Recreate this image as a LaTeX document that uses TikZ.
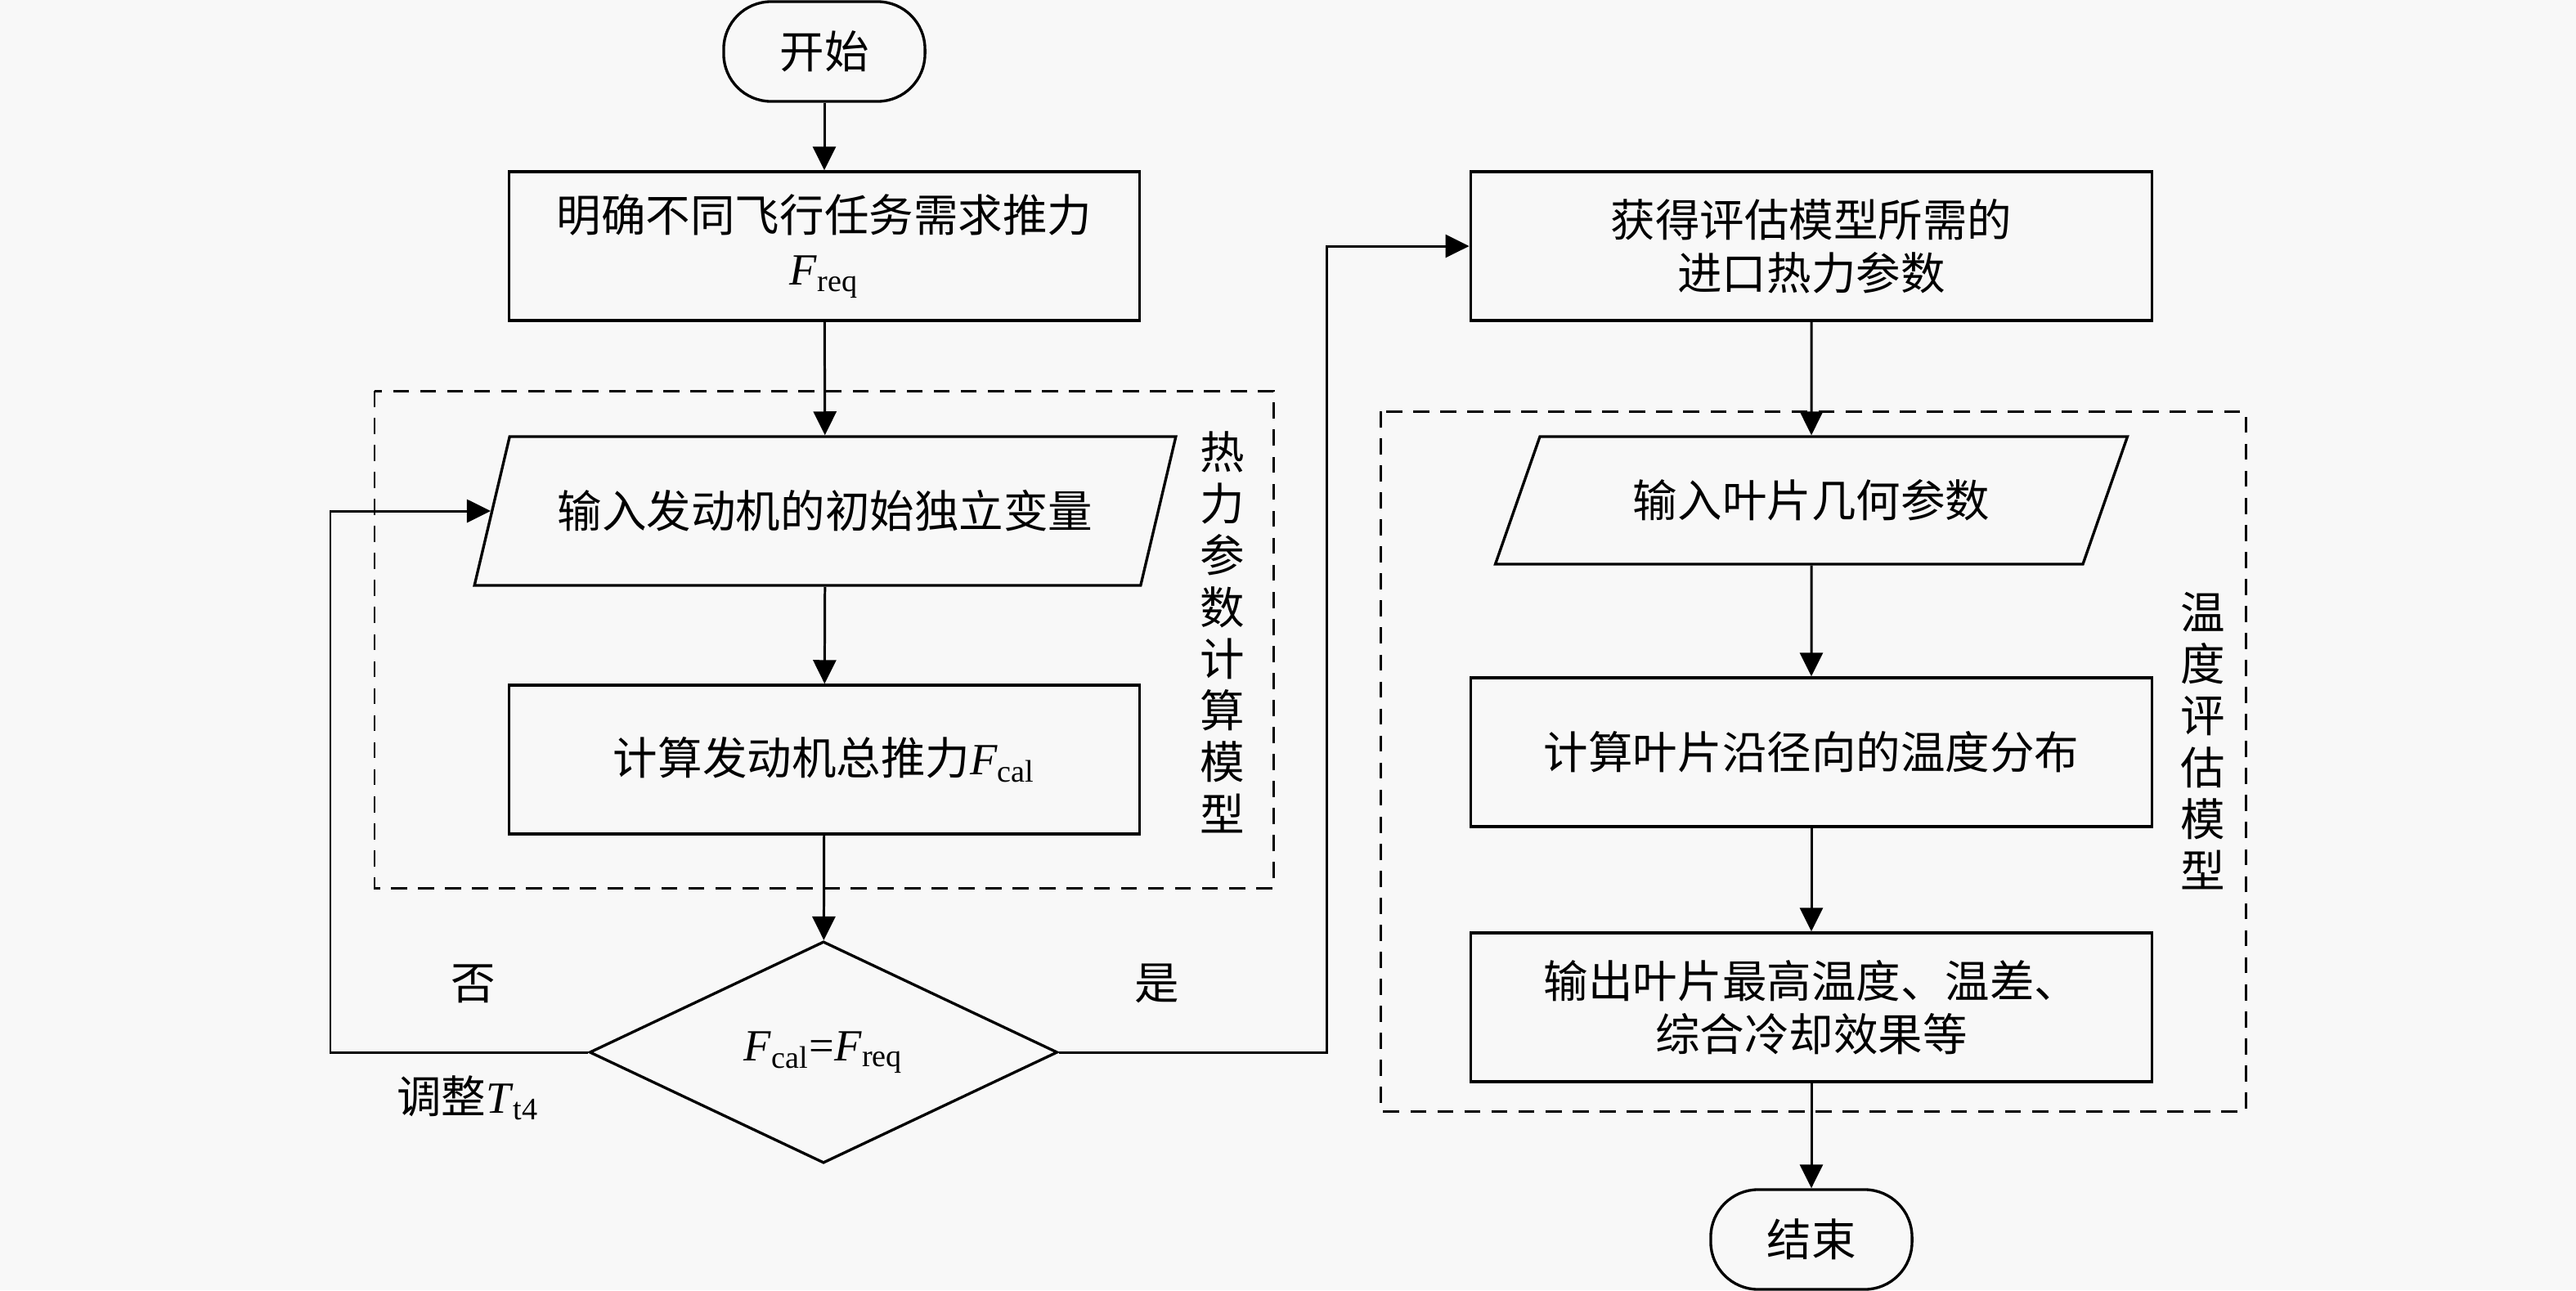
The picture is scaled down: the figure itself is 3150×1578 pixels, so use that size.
\documentclass[tikz,border=0pt]{standalone}
\usepackage{fontspec}
\setmainfont{Liberation Serif}
\newfontfamily\cjk{Noto Sans CJK SC}
\usepackage{tikz}
\usetikzlibrary{arrows.meta,shapes.geometric,positioning}
\usepackage{xcolor}
\definecolor{bgpaper}{RGB}{248,248,248}
\newcommand{\Fv}[1]{{\rmfamily\textit{F}\textsubscript{#1}}}
\tikzstyle{arrow} = [line width=0.85pt,-{Triangle[length=0.29cm,width=0.28cm]}]
\tikzstyle{link} = [line width=0.85pt]
\tikzstyle{terminal} = [draw, line width=0.95pt, rounded corners=0.58cm, minimum width=2.46cm, minimum height=1.22cm]
\tikzstyle{process} = [draw, line width=0.95pt, minimum height=1.82cm, align=center]
\tikzstyle{io} = [draw, line width=0.95pt, trapezium, trapezium left angle=63, trapezium right angle=117, trapezium stretches=true, align=center]
\tikzstyle{decision} = [draw, line width=0.95pt, diamond, inner sep=0pt, minimum width=5.72cm, minimum height=2.71cm]
\tikzstyle{frame} = [line width=0.85pt, dash pattern=on 5.6pt off 3.8pt]
\tikzstyle{vlabel} = [align=center, font=\cjk\fontsize{15.5}{18}\selectfont]

\begin{document}
\begin{tikzpicture}[x=0.01cm, y=-0.01cm, font=\cjk\fontsize{15.5}{18.5}\selectfont]
% background and page size
\fill[bgpaper] (0,0) rectangle (3150,1578);
\useasboundingbox (0,0) rectangle (3150,1578);

% dashed model frames
\draw[frame] (458,478) rectangle (1557,1086);
\draw[frame] (1688,503) rectangle (2746,1359);
\node[vlabel] (thermo) at (1495,773) {热\\力\\参\\数\\计\\算\\模\\型};
\node[vlabel] (tempmodel) at (2694,906) {温\\度\\评\\估\\模\\型};

% left column
\node[terminal] (start) at (1008,63) {开始};
\node[process, minimum width=7.71cm] (req) at (1008,301) {明确不同飞行任务需求推力\\\Fv{req}};
\node[io, minimum width=8.6cm, minimum height=1.82cm] (input) at (1009,625) {输入发动机的初始独立变量};
\node[process, minimum width=7.71cm] (cal) at (1008,929) {计算发动机总推力\Fv{cal}};
\node[decision] (dec) at (1007,1287) {\Fv{cal}{\rmfamily=}\Fv{req}};

% right column
\node[process, minimum width=8.33cm] (inlet) at (2215,301) {获得评估模型所需的\\进口热力参数};
\node[io, minimum width=7.74cm, minimum height=1.56cm] (geom) at (2215,612) {输入叶片几何参数};
\node[process, minimum width=8.33cm] (dist) at (2215,920) {计算叶片沿径向的温度分布};
\node[process, minimum width=8.33cm] (out) at (2215,1232) {输出叶片最高温度、温差、\\综合冷却效果等};
\node[terminal] (end) at (2215,1516) {结束};

% branch labels
\node (no) at (579,1203) {否};
\node (yes) at (1415,1203) {是};
\node (adjust) at (572,1343) {调整{\rmfamily\textit{T}\textsubscript{t4}}};

% connectors
\coordinate (loopx) at (404,0);
\coordinate (yesx) at (1622,0);
\draw[arrow] (start) -- (req);
\draw[arrow] (req) -- (input);
\draw[arrow] (input) -- (cal);
\draw[arrow] (cal) -- (dec);
\draw[arrow] (dec.west) -- (dec.west -| loopx) |- (input.west);
\draw[arrow] (dec.east) -- (dec.east -| yesx) |- (inlet.west);
\draw[arrow] (inlet) -- (geom);
\draw[arrow] (geom) -- (dist);
\draw[arrow] (dist) -- (out);
\draw[arrow] (out) -- (end);
\end{tikzpicture}
\end{document}
